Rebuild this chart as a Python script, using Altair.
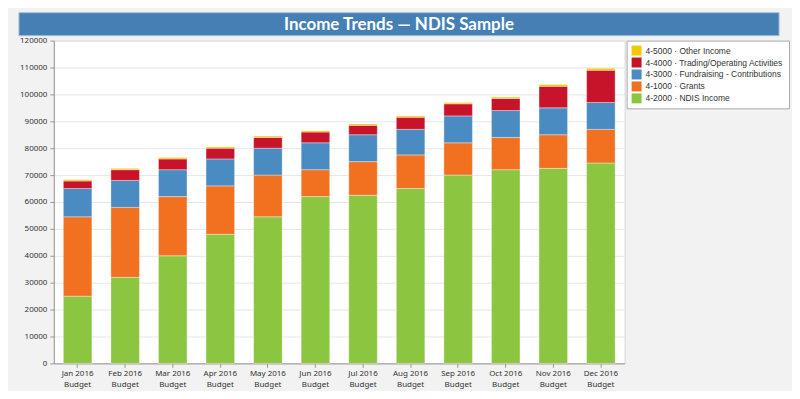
import altair as alt
import pandas as pd

title_text = "Income Trends — NDIS Sample"
months = ["Jan 2016", "Feb 2016", "Mar 2016", "Apr 2016", "May 2016", "Jun 2016",
          "Jul 2016", "Aug 2016", "Sep 2016", "Oct 2016", "Nov 2016", "Dec 2016"]
ndis = [25000, 32000, 40000, 48000, 54500, 62000, 62500, 65000, 70000, 72000, 72500, 74500]
grants = [29500, 26000, 22000, 18000, 15500, 10000, 12500, 12500, 12000, 12000, 12500, 12500]
fundraising = [10500, 10000, 10000, 10000, 10000, 10000, 10000, 9500, 10000, 10000, 10000, 10000]
trading = [2800, 4000, 4000, 4000, 4000, 4000, 3500, 4500, 4500, 4500, 8000, 12000]
other = [500, 500, 500, 500, 500, 500, 500, 500, 500, 500, 700, 700]

series_names = ["4-5000 · Other Income", "4-4000 · Trading/Operating Activities",
                "4-3000 · Fundraising - Contributions", "4-1000 · Grants", "4-2000 · NDIS Income"]
series_colors = ["#f5c800", "#c8142a", "#4a8bc1", "#f27121", "#8cc540"]
stack_values = {
    "4-2000 · NDIS Income": ndis,
    "4-1000 · Grants": grants,
    "4-3000 · Fundraising - Contributions": fundraising,
    "4-4000 · Trading/Operating Activities": trading,
    "4-5000 · Other Income": other,
}
stack_order = list(stack_values.keys())

rows = []
for s_i, name in enumerate(stack_order):
    for m, v in zip(months, stack_values[name]):
        rows.append({"month": m, "series": name, "value": v, "order": s_i})
df = pd.DataFrame(rows)

bars = alt.Chart(df).mark_bar(stroke="white", strokeWidth=0.6, strokeOpacity=0.6).encode(
    x=alt.X("month:N", sort=months, title=None,
            scale=alt.Scale(paddingInner=0.4, paddingOuter=0.2),
            axis=alt.Axis(labelAngle=0, labelExpr="[datum.label, 'Budget']",
                          labelLineHeight=11, tickSize=4, labelPadding=2,
                          domainColor="#999", tickColor="#999", grid=False)),
    y=alt.Y("value:Q", stack="zero", title=None,
            scale=alt.Scale(domain=[0, 120000], nice=False),
            axis=alt.Axis(values=list(range(0, 120001, 10000)), tickSize=4, format="d",
                          domainColor="#999", tickColor="#999", gridColor="#e6e6e6",
                          labelPadding=3)),
    color=alt.Color("series:N", title=None,
                    scale=alt.Scale(domain=series_names, range=series_colors),
                    legend=alt.Legend(orient="right", offset=2, symbolType="square",
                                      symbolSize=100, symbolStrokeWidth=0,
                                      labelFontSize=8.5, labelColor="#333",
                                      labelFont="Liberation Sans Narrow, Liberation Sans",
                                      rowPadding=2, padding=5, strokeColor="#aaa",
                                      fillColor="white", labelLimit=300)),
    order=alt.Order("order:Q", sort="ascending"),
)

banner_df = pd.DataFrame({"t": [title_text]})
banner = alt.Chart(banner_df).mark_rect(color="#467fb4", stroke="#9fbfdc", strokeWidth=1).encode(
    x=alt.value(-35), x2=alt.value(728), y=alt.value(-28), y2=alt.value(-5)
)
banner_text = alt.Chart(banner_df).mark_text(
    color="white", font="Lato", fontSize=17, fontWeight="bold", baseline="middle", align="center"
).encode(x=alt.value(346.5), y=alt.value(-16), text="t:N")

chart = alt.layer(bars, banner, banner_text).properties(
    width=573, height=324, background="#f2f2f2",
    padding={"left": 10, "top": 3, "right": 2, "bottom": 2},
).configure_view(fill="white", stroke="#d6d6d6").configure_axis(
    labelFont="Noto Sans", labelFontSize=8, labelColor="#333"
)

chart.save("out.html", embed_options={"renderer": "svg", "actions": False})
